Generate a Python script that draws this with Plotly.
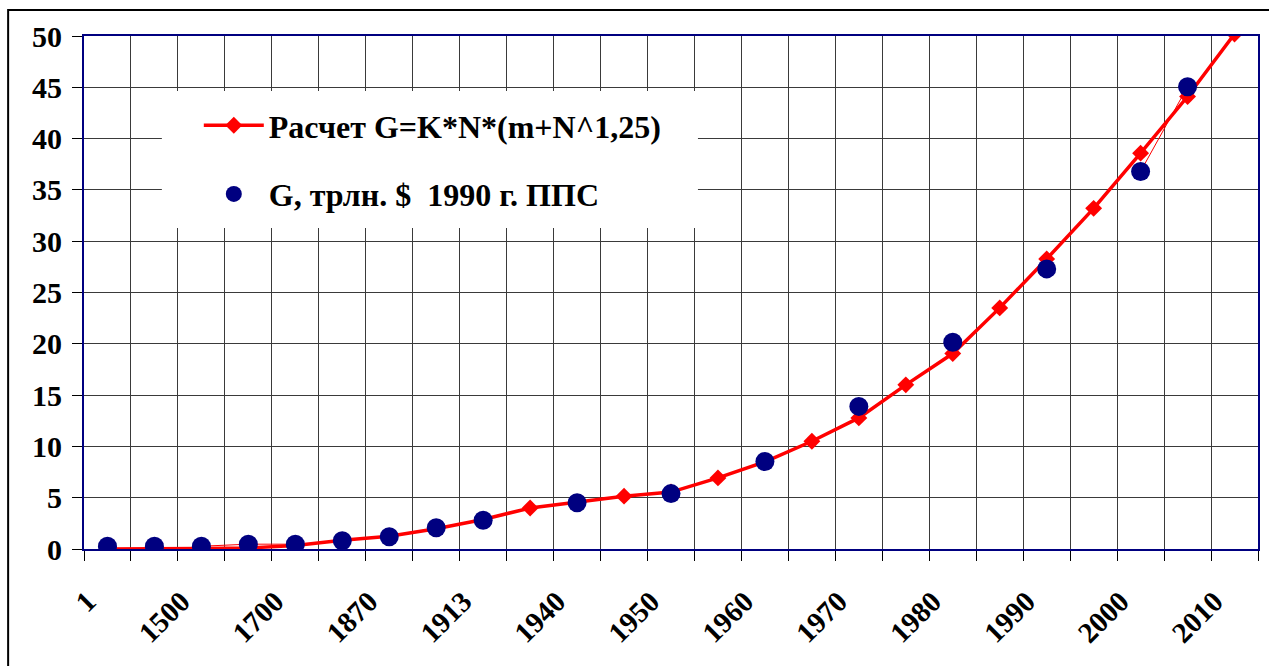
import plotly.graph_objects as go

# Category axis: 25 slots, every other one labelled
slot_labels = ["1", "", "1500", "", "1700", "", "1870", "", "1913", "", "1940", "",
               "1950", "", "1960", "", "1970", "", "1980", "", "1990", "", "2000", "", "2010"]

# Model curve G = K*N*(m+N^1.25), trillion $ (one value per slot)
calc_G = [0.0, 0.0, 0.05, 0.1, 0.35, 0.86, 1.25, 1.97, 2.87, 4.0, 4.55, 5.15, 5.55,
          6.93, 8.5, 10.5, 12.78, 16.0, 19.05, 23.5, 28.27, 33.2, 38.58, 44.1, 50.2]

# Observed G, trillion 1990 PPP $ (slot index, value)
obs_slot = [0, 1, 2, 3, 4, 5, 6, 7, 8, 10, 12, 14, 16, 18, 20, 22, 23]
obs_G = [0.27, 0.27, 0.27, 0.47, 0.47, 0.8, 1.19, 2.07, 2.8, 4.5, 5.4, 8.52,
         13.9, 20.15, 27.3, 36.8, 45.06]

# observed slots joined by the thin hairline
hair_slots = [[2, 3, 4], [6, 7, 8], [22, 23]]

y_ticks = [0, 5, 10, 15, 20, 25, 30, 35, 40, 45, 50]

W, H = 1269, 666
ML, MR, MT, MB = 84, 9, 36, 117
PW, PH = W - ML - MR, H - MT - MB

def px_x(p):
    return (p - ML) / PW

def px_y(p):
    return (H - MB - p) / PH

FONT = "Liberation Serif"
NAVY = "#000080"
GRID = "#3a3a3a"

slots = list(range(len(slot_labels)))
label_slots = [i for i, t in enumerate(slot_labels) if t]
obs_by_slot = dict(zip(obs_slot, obs_G))

hair_x, hair_y = [], []
for seg in hair_slots:
    hair_x += seg + [None]
    hair_y += [obs_by_slot[s] for s in seg] + [None]

fig = go.Figure()

fig.add_trace(go.Scatter(
    x=hair_x, y=hair_y, mode="lines",
    line=dict(color="#ff0000", width=1),
    showlegend=False, hoverinfo="skip", connectgaps=False,
))

fig.add_trace(go.Scatter(
    x=slots, y=calc_G, mode="lines+markers",
    name="Расчет G=K*N*(m+N^1,25)",
    line=dict(color="#ff0000", width=3.5),
    marker=dict(symbol="diamond", size=13, color="#ff0000"),
    legendgroup="a",
))

fig.add_trace(go.Scatter(
    x=obs_slot, y=obs_G, mode="markers",
    name="G, трлн. $  1990 г. ППС",
    marker=dict(symbol="circle", size=19, color=NAVY),
    legendgroup="b",
))

fig.update_layout(
    width=W, height=H,
    margin=dict(l=ML, r=MR, t=MT, b=MB),
    paper_bgcolor="white", plot_bgcolor="white",
    showlegend=True,
    legend=dict(
        x=px_x(199), y=px_y(98), xanchor="left", yanchor="top",
        bgcolor="rgba(0,0,0,0)", borderwidth=0,
        font=dict(family=FONT, size=32, color="black", weight="bold"),
        traceorder="grouped", tracegroupgap=24, itemwidth=60,
    ),
    shapes=[
        # white panel behind the legend
        dict(type="rect", xref="paper", yref="paper", layer="above",
             x0=px_x(162), x1=px_x(699), y0=px_y(228), y1=px_y(91),
             fillcolor="white", line=dict(width=0)),
        # outer chart frame
        dict(type="rect", xref="paper", yref="paper",
             x0=px_x(8), x1=px_x(1280), y0=px_y(680), y1=px_y(10),
             line=dict(color="black", width=2), fillcolor="rgba(0,0,0,0)"),
    ],
)

fig.update_xaxes(
    range=[-0.5, len(slots) - 0.5],
    tickmode="array", tickvals=label_slots,
    ticktext=[slot_labels[i] for i in label_slots],
    tickangle=-45, ticks="", showgrid=False, zeroline=False,
    ticklabelstandoff=22, ticklabelshift=-20,
    tickfont=dict(family=FONT, size=29, color="black", weight="bold"),
    showline=True, linecolor=NAVY, linewidth=2, mirror=True,
    minor=dict(tickmode="array", tickvals=[i - 0.5 for i in range(len(slots) + 1)],
               showgrid=True, gridcolor=GRID, gridwidth=1.2,
               ticks="outside", ticklen=10, tickcolor="black", tickwidth=1),
)

fig.update_yaxes(
    range=[0, 50], tickmode="array", tickvals=y_ticks,
    ticks="outside", ticklen=10, tickcolor="black",
    ticklabelstandoff=4,
    showgrid=True, gridcolor=GRID, gridwidth=1.2, zeroline=False,
    tickfont=dict(family=FONT, size=30, color="black", weight="bold"),
    showline=True, linecolor=NAVY, linewidth=2, mirror=True,
)

fig.write_html("out.html")
